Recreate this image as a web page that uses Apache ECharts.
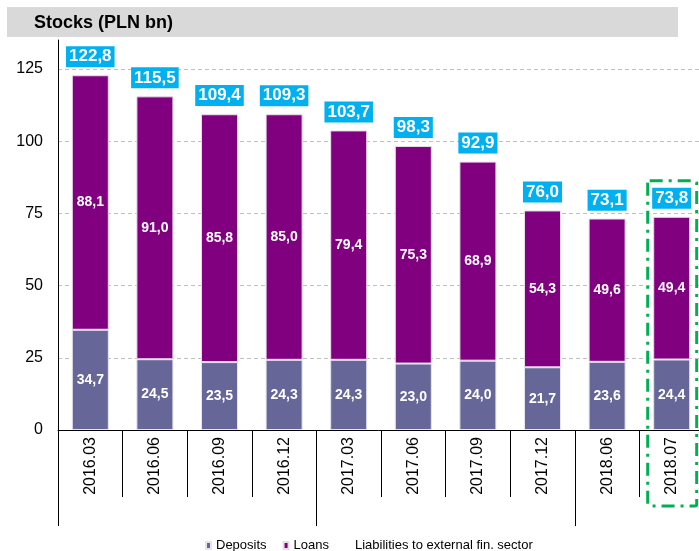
<!DOCTYPE html>
<html>
<head>
<meta charset="utf-8">
<script src="https://cdn.jsdelivr.net/npm/echarts@6/dist/echarts.min.js"></script>
<style>
  html, body { margin: 0; padding: 0; background: #fff; }
  #main { width: 699px; height: 551px; }
</style>
</head>
<body>
<div id="main"></div>
<script>
var categories = ['2016.03', '2016.06', '2016.09', '2016.12', '2017.03', '2017.06', '2017.09', '2017.12', '2018.06', '2018.07'];
var deposits = [34.7, 24.5, 23.5, 24.3, 24.3, 23.0, 24.0, 21.7, 23.6, 24.4];
var loans = [88.1, 91.0, 85.8, 85.0, 79.4, 75.3, 68.9, 54.3, 49.6, 49.4];
var liabilities = [122.8, 115.5, 109.4, 109.3, 103.7, 98.3, 92.9, 76.0, 73.1, 73.8];
// first category of each year -> long separator
var yearStarts = [0, 4, 8];
var highlighted = '2018.07';

var FONT = 'Liberation Sans, Arial, sans-serif';

function plFmt(p) {
  return Number(p.value).toFixed(1).replace('.', ',');
}

var myChart = echarts.init(document.getElementById('main'));

var option = {
  animation: false,
  textStyle: { fontFamily: FONT },
  title: {
    text: 'Stocks (PLN bn)',
    left: 34,
    top: 14,
    padding: 0,
    textStyle: { fontSize: 18, fontWeight: 'bold', color: '#000', fontFamily: FONT, lineHeight: 18 }
  },
  graphic: [
    {
      id: 'titleBar',
      type: 'rect',
      left: 7,
      top: 7,
      z: -10,
      shape: { width: 671, height: 30 },
      style: { fill: '#d9d9d9' }
    }
  ],
  legend: {
    data: ['Deposits', 'Loans', 'Liabilities to external fin. sector'],
    left: 200,
    top: 534,
    icon: 'rect',
    itemWidth: 5,
    itemHeight: 7,
    itemGap: 16,
    textStyle: { fontSize: 13, color: '#000', fontFamily: FONT }
  },
  grid: {
    left: 58,
    top: 40,
    width: 646,
    height: 390,
    outerBoundsMode: 'none'
  },
  xAxis: [
    {
      type: 'category',
      data: categories,
      axisLine: { show: true, lineStyle: { color: '#000', width: 1 } },
      axisTick: { show: true, alignWithLabel: false, length: 67, lineStyle: { color: '#000', width: 1 } },
      axisLabel: { rotate: 90, fontSize: 16, color: '#000', margin: 7, fontFamily: FONT }
    },
    {
      type: 'category',
      data: categories,
      position: 'bottom',
      axisLine: { show: false },
      axisLabel: { show: false },
      axisTick: {
        show: true,
        alignWithLabel: false,
        length: 96,
        lineStyle: { color: '#000', width: 1 },
        interval: function (index) { return yearStarts.indexOf(index) >= 0; }
      }
    }
  ],
  yAxis: {
    type: 'value',
    min: 0,
    max: 135,
    interval: 25,
    axisLine: { show: true, lineStyle: { color: '#000' } },
    axisTick: { show: false },
    axisLabel: { fontSize: 16, color: '#000', margin: 15, showMaxLabel: false, fontFamily: FONT },
    splitLine: {
      show: true,
      showMinLine: false,
      showMaxLine: false,
      lineStyle: { color: '#c0c0c0', type: [4, 3], width: 1 }
    }
  },
  series: [
    {
      name: 'Deposits',
      type: 'bar',
      stack: 'total',
      barWidth: 37,
      data: deposits,
      itemStyle: { color: '#666699', borderColor: '#e4e4ee', borderWidth: 1 },
      label: { show: true, position: 'inside', color: '#fff', fontWeight: 'bold', fontSize: 14, formatter: plFmt, fontFamily: FONT }
    },
    {
      name: 'Loans',
      type: 'bar',
      stack: 'total',
      barWidth: 37,
      data: loans,
      itemStyle: { color: '#800080', borderColor: '#e8dce8', borderWidth: 1 },
      label: { show: true, position: 'inside', color: '#fff', fontWeight: 'bold', fontSize: 14, formatter: plFmt, fontFamily: FONT }
    },
    {
      name: 'Liabilities to external fin. sector',
      type: 'bar',
      barWidth: 37,
      barGap: '-100%',
      data: liabilities,
      itemStyle: { color: 'rgba(0,0,0,0)' },
      label: {
        show: true,
        position: 'top',
        distance: 8,
        color: '#fff',
        fontWeight: 'bold',
        fontSize: 17,
        lineHeight: 19,
        backgroundColor: '#00b0f0',
        padding: [1, 3],
        formatter: plFmt,
        fontFamily: FONT
      }
    }
  ]
};

myChart.setOption(option);

// dash-dot frame round the latest period
var idx = categories.indexOf(highlighted);
var topPt = myChart.convertToPixel({ xAxisIndex: 0, yAxisIndex: 0 }, [highlighted, liabilities[idx]]);
var basePt = myChart.convertToPixel({ xAxisIndex: 0, yAxisIndex: 0 }, [highlighted, 0]);
myChart.setOption({
  graphic: [
    {
      id: 'frame',
      type: 'rect',
      z: 100,
      shape: { x: topPt[0] - 24, y: topPt[1] - 36, width: 49, height: basePt[1] + 76 - (topPt[1] - 36), r: 2 },
      style: { fill: 'none', stroke: '#00b050', lineWidth: 3, lineDash: [13, 6, 3, 6] }
    }
  ]
});
</script>
</body>
</html>
